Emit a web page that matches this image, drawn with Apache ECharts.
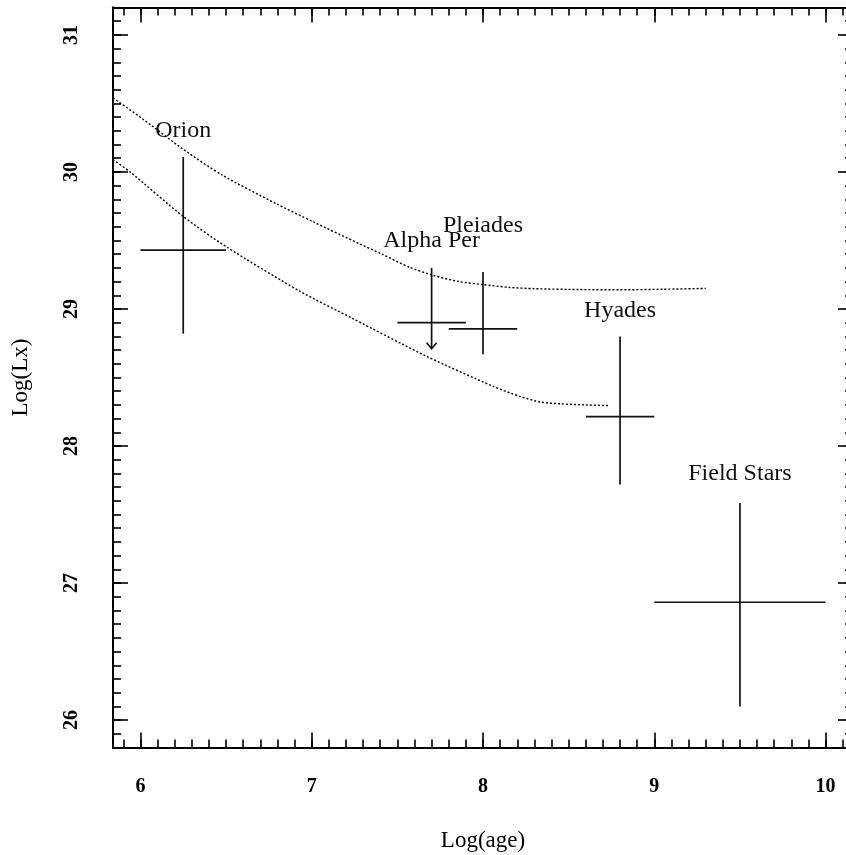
<!DOCTYPE html>
<html>
<head>
<meta charset="utf-8">
<script src="https://cdn.jsdelivr.net/npm/echarts@6/dist/echarts.min.js"></script>
<style>
  html, body { margin: 0; padding: 0; background: #fff; }
  #chart { width: 846px; height: 855px; }
</style>
</head>
<body>
<div id="chart"></div>
<script>
// Tick labels
const xTickLabels = [6, 7, 8, 9, 10];
const yTickLabels = [26, 27, 28, 29, 30, 31];

// Cluster measurements: log age with its range, log Lx with its range
const clusterNames = ['Orion', 'Alpha Per', 'Pleiades', 'Hyades', 'Field Stars'];
const clusterAge = [6.25, 7.7, 8.0, 8.8, 9.5];
const clusterAgeLow = [6.0, 7.5, 7.8, 8.6, 9.0];
const clusterAgeHigh = [6.5, 7.9, 8.2, 9.0, 10.0];
const clusterLx = [29.43, 28.90, 28.855, 28.215, 26.86];
const clusterLxLow = [28.82, 28.71, 28.67, 27.72, 26.10];
const clusterLxHigh = [30.11, 29.30, 29.27, 28.80, 27.585];
const clusterUpperLimit = [0, 1, 0, 0, 0];

// Where each cluster name is written
const labelAge = [6.25, 7.7, 8.0, 8.8, 9.5];
const labelLx = [30.30, 29.50, 29.605, 28.99, 27.80];

// Model tracks (dotted)
const upperTrackAge = [5.84, 6.01, 6.25, 6.48, 6.79, 7.01, 7.28, 7.41, 7.57, 7.71, 7.86, 8.00, 8.15, 8.30, 8.55, 8.80, 9.05, 9.30];
const upperTrackLx  = [30.54, 30.39, 30.165, 29.975, 29.77, 29.635, 29.475, 29.40, 29.305, 29.245, 29.20, 29.178, 29.158, 29.148, 29.142, 29.14, 29.144, 29.15];
const lowerTrackAge = [5.84, 5.94, 6.25, 6.50, 6.93, 7.24, 7.67, 8.06, 8.22, 8.34, 8.45, 8.60, 8.74];
const lowerTrackLx  = [30.09, 30.00, 29.675, 29.455, 29.13, 28.93, 28.655, 28.435, 28.36, 28.32, 28.308, 28.30, 28.295];

const X_MIN = 5.84, X_MAX = 10.16;
const Y_MIN = 25.8, Y_MAX = 31.2;

function minorSteps(lo, hi) {
  const out = [];
  for (let k = lo; k <= hi; k++) out.push(k / 10);
  return out;
}
const xMinor = minorSteps(59, 101);
const yMinor = minorSteps(259, 311);

const SERIF = 'Liberation Serif';
const INK = '#000';

function xAxisDef(position, ticks, len, withLabels) {
  return {
    type: 'value', position: position, min: X_MIN, max: X_MAX,
    axisLine: { show: true, onZero: false, lineStyle: { color: INK, width: 2 } },
    axisTick: { show: true, inside: true, length: len, customValues: ticks, lineStyle: { color: INK, width: 1.6 } },
    axisLabel: withLabels ? {
      show: true, customValues: xTickLabels, margin: 29,
      fontFamily: SERIF, fontSize: 20, fontWeight: 'bold', color: INK
    } : { show: false },
    splitLine: { show: false },
    name: withLabels ? 'Log(age)' : '',
    nameLocation: 'middle', nameGap: 82,
    nameTextStyle: { fontFamily: SERIF, fontSize: 23, color: INK }
  };
}
function yAxisDef(position, ticks, len, withLabels) {
  return {
    type: 'value', position: position, min: Y_MIN, max: Y_MAX,
    axisLine: { show: true, onZero: false, lineStyle: { color: INK, width: 2 } },
    axisTick: { show: true, inside: true, length: len, customValues: ticks, lineStyle: { color: INK, width: 1.6 } },
    axisLabel: withLabels ? {
      show: true, customValues: yTickLabels, margin: 31, rotate: 90,
      fontFamily: SERIF, fontSize: 20, fontWeight: 'bold', color: INK
    } : { show: false },
    splitLine: { show: false },
    name: withLabels ? 'Log(Lx)' : '',
    nameLocation: 'middle', nameGap: 81, nameRotate: 90,
    nameTextStyle: { fontFamily: SERIF, fontSize: 23, color: INK }
  };
}

const crossData = clusterNames.map((n, i) => [
  clusterAge[i], clusterLx[i], clusterAgeLow[i], clusterAgeHigh[i],
  clusterLxLow[i], clusterLxHigh[i], clusterUpperLimit[i]
]);
const labelData = clusterNames.map((n, i) => [labelAge[i], labelLx[i], n]);

const chart = echarts.init(document.getElementById('chart'), null, { renderer: 'canvas' });
chart.setOption({
  animation: false,
  backgroundColor: '#fff',
  grid: { left: 113, top: 7.5, width: 740, height: 740, containLabel: false, outerBoundsMode: 'none' },
  xAxis: [
    xAxisDef('bottom', xTickLabels, 15, true),
    xAxisDef('bottom', xMinor, 8, false),
    xAxisDef('top', xTickLabels, 15, false),
    xAxisDef('top', xMinor, 8, false)
  ],
  yAxis: [
    yAxisDef('left', yTickLabels, 15, true),
    yAxisDef('left', yMinor, 8, false),
    yAxisDef('right', yTickLabels, 15, false),
    yAxisDef('right', yMinor, 8, false)
  ],
  series: [
    {
      type: 'line', name: 'upper track',
      data: upperTrackAge.map((a, i) => [a, upperTrackLx[i]]),
      showSymbol: false, symbol: 'none', smooth: 0.25,
      lineStyle: { color: INK, width: 1.4, type: [2, 2] }
    },
    {
      type: 'line', name: 'lower track',
      data: lowerTrackAge.map((a, i) => [a, lowerTrackLx[i]]),
      showSymbol: false, symbol: 'none', smooth: 0.25,
      lineStyle: { color: INK, width: 1.4, type: [2, 2] }
    },
    {
      type: 'custom', name: 'clusters',
      data: crossData,
      encode: { x: [0, 2, 3], y: [1, 4, 5] },
      renderItem: function (params, api) {
        const xLo = api.coord([api.value(2), api.value(1)]);
        const xHi = api.coord([api.value(3), api.value(1)]);
        const yLo = api.coord([api.value(0), api.value(4)]);
        const yHi = api.coord([api.value(0), api.value(5)]);
        const st = { stroke: '#111', lineWidth: 1.7, fill: null };
        const kids = [
          { type: 'line', shape: { x1: xLo[0], y1: xLo[1], x2: xHi[0], y2: xHi[1] }, style: st },
          { type: 'line', shape: { x1: yHi[0], y1: yHi[1], x2: yLo[0], y2: yLo[1] }, style: st }
        ];
        if (api.value(6)) {
          kids.push({
            type: 'polyline',
            shape: { points: [[yLo[0] - 5, yLo[1] - 6], [yLo[0], yLo[1]], [yLo[0] + 5, yLo[1] - 6]] },
            style: st
          });
        }
        return { type: 'group', children: kids };
      }
    },
    {
      type: 'custom', name: 'names',
      data: labelData,
      encode: { x: 0, y: 1 },
      renderItem: function (params, api) {
        const p = api.coord([api.value(0), api.value(1)]);
        return {
          type: 'text', x: p[0], y: p[1],
          style: {
            text: labelData[params.dataIndex][2],
            fill: '#111', fontFamily: SERIF, fontSize: 24,
            align: 'center', verticalAlign: 'middle'
          }
        };
      }
    }
  ]
});
</script>
</body>
</html>
